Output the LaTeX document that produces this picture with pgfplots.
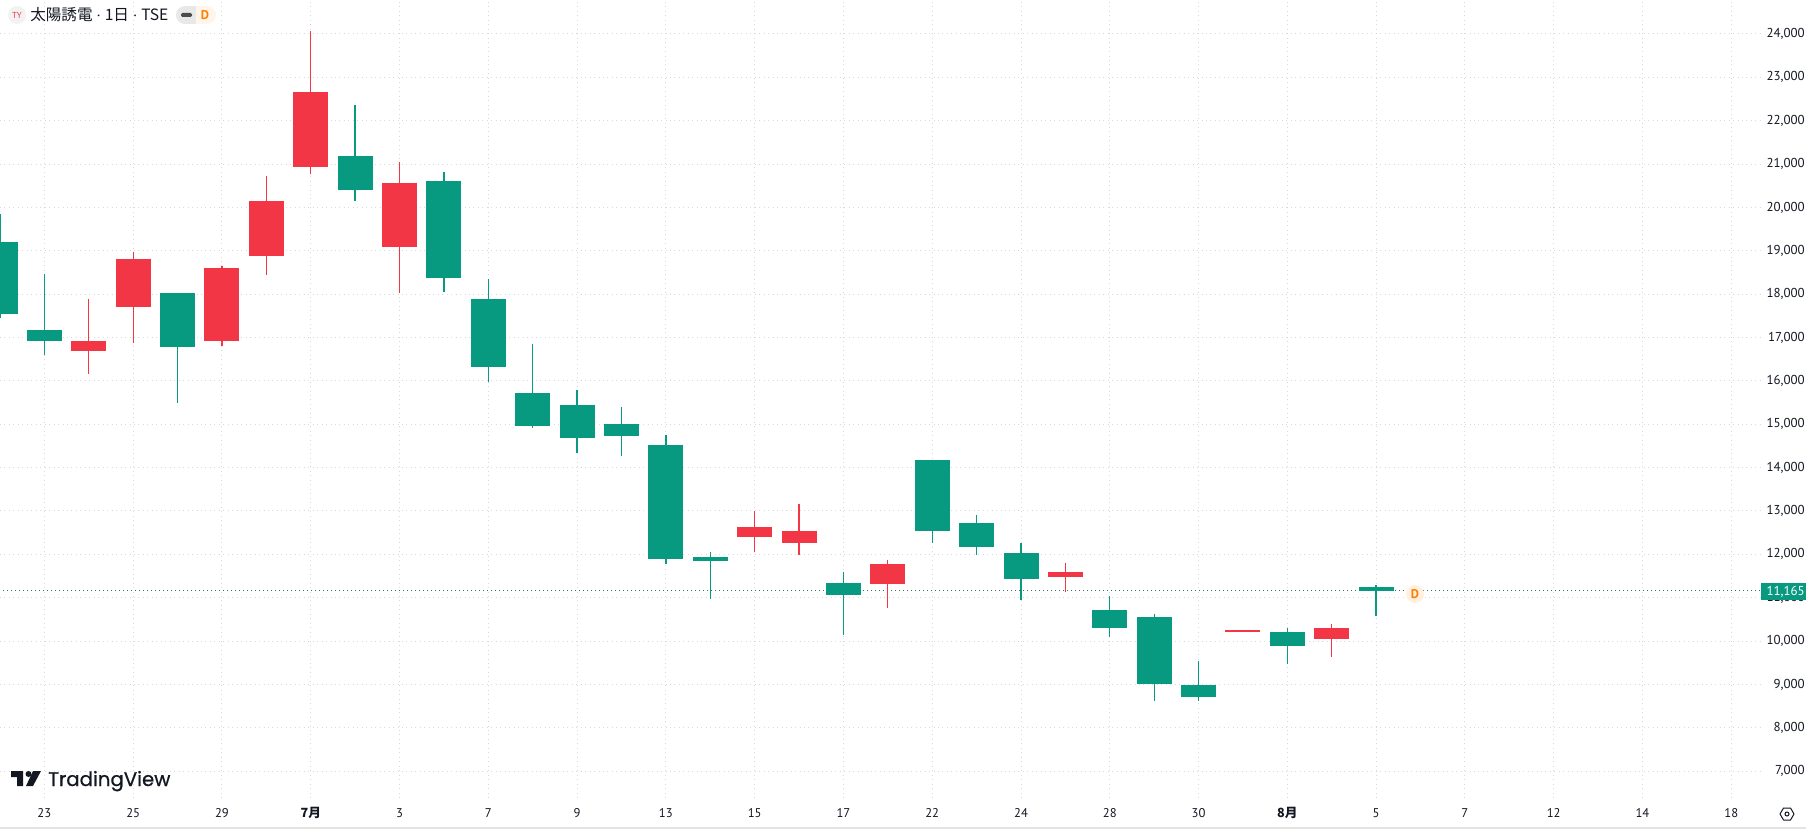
\documentclass[border=0pt]{standalone}
\usepackage{pgfplots}
\usepackage{pgfplotstable}
\usepackage{fontspec}
\pgfplotsset{compat=1.18}
\setmainfont{PT Sans}
\newfontfamily\cjk{Noto Sans CJK JP}
\newfontfamily\logofont[FakeBold=0.6]{Poppins}
\definecolor{tvgreen}{HTML}{089981}
\definecolor{tvred}{HTML}{F23645}
\definecolor{tvgrid}{HTML}{D9D9D9}
\definecolor{tvtext}{HTML}{131722}
\definecolor{tvlast}{HTML}{2F6F60}
% x top bottom high low
\pgfplotstableread{
x top bot hi lo
-0.99 19200 17550 19850 17450
0 17170 16930 18470 16590
3 18020 16780 18020 15500
7 21180 20410 22370 20150
9 20620 18370 20810 18050
10 17890 16330 18340 15980
11 15720 14950 16860 14920
12 15450 14680 15800 14340
13 15000 14740 15400 14260
14 14530 11900 14760 11770
15 11930 11850 12060 10980
18 11350 11060 11590 10150
20 14180 12540 14180 12270
21 12720 12170 12910 11980
22 12040 11430 12270 10950
24 10710 10290 11030 10100
25 10550 9010 10630 8620
26 8986 8710 9540 8620
28 10208 9886 10300 9470
30 11250 11165 11290 10580
}\greentable
\pgfplotstableread{
x top bot hi lo
1 16930 16700 17890 16170
2 18810 17700 18970 16880
4 18610 16930 18660 16800
5 20150 18870 20730 18450
6 22660 20940 24070 20780
8 20570 19080 21040 18020
16 12620 12410 13010 12060
17 12540 12250 13170 11980
19 11770 11320 11880 10760
23 11590 11480 11800 11130
27 10245 10215 10245 10215
29 10300 10047 10393 9632
}\redtable
\begin{document}
\begin{tikzpicture}
\useasboundingbox (0pt,0pt) rectangle (1354.5pt,621.75pt);
\fill[white] (0pt,0pt) rectangle (1354.5pt,621.75pt);
\begin{axis}[
  at={(0pt,23.25pt)}, anchor=south west,
  scale only axis, width=1320.75pt, height=598.5pt,
  xmin=-1.0, xmax=38.67, ymin=6380, ymax=24784,
  axis x line*=bottom, axis y line*=right,
  separate axis lines, x axis line style={draw=none}, y axis line style={draw=none},
  xtick={0,2,...,38},
  xticklabels={23,25,29,{\cjk\bfseries 7月},3,7,9,13,15,17,22,24,28,30,{\cjk\bfseries 8月},5,7,12,14,18},
  ytick={7000,8000,...,24000},
  scaled y ticks=false,
  major tick length=0pt,
  xmajorgrids, ymajorgrids,
  grid style={color=tvgrid, line width=0.75pt, dash pattern=on 0.75pt off 2.6pt},
  xticklabel style={font=\fontsize{9.5}{11}\selectfont, text=tvtext, anchor=center, inner sep=0pt, yshift=-11.25pt},
  yticklabel style={font=\fontsize{9.7}{11}\selectfont, text=tvtext, anchor=east, inner sep=0pt, xshift=33pt},
  /pgf/number format/.cd, 1000 sep={,}, assume math mode=true, fixed, precision=0,
]
% last price
\addplot[tvlast, line width=0.75pt, dash pattern=on 0.75pt off 2.25pt, forget plot] coordinates {(-0.93,11165) (38.67,11165)};
% wicks
\addplot[draw=none, mark=none, forget plot,
  error bars/.cd, y dir=minus, y explicit, error mark=none,
  error bar style={color=tvgreen, line width=1pt}]
  table[x=x, y=hi, y error minus expr=\thisrow{hi}-\thisrow{lo}] {\greentable};
\addplot[draw=none, mark=none, forget plot,
  error bars/.cd, y dir=minus, y explicit, error mark=none,
  error bar style={color=tvred, line width=1pt}]
  table[x=x, y=hi, y error minus expr=\thisrow{hi}-\thisrow{lo}] {\redtable};
% bodies
\addplot[draw=none, mark=none, forget plot,
  error bars/.cd, y dir=minus, y explicit, error mark=none,
  error bar style={color=tvgreen, line width=26.25pt}]
  table[x=x, y=top, y error minus expr=\thisrow{top}-\thisrow{bot}] {\greentable};
\addplot[draw=none, mark=none, forget plot,
  error bars/.cd, y dir=minus, y explicit, error mark=none,
  error bar style={color=tvred, line width=26.25pt}]
  table[x=x, y=top, y error minus expr=\thisrow{top}-\thisrow{bot}] {\redtable};
\end{axis}
\begin{scope}[x=0.75pt, y=-0.75pt, shift={(0pt,621.75pt)}]
% bottom rule
\draw[color=tvgrid!70, line width=1pt] (0,828) -- (1806,828);
% price label
\fill[tvgreen] (1761,583) rectangle (1806,600);
\node[anchor=east, inner sep=0pt, text=white, font=\fontsize{9.7}{11}\selectfont] at (1805,591.5) {11,165};
% D marker
\fill[orange!12] (1415,594) circle (9);
\node[inner sep=0pt, text=orange, font=\fontsize{9.5}{11}\selectfont\bfseries] at (1415,594) {D};
% title
\fill[black!5] (17,15) circle (9);
\node[inner sep=0pt, text=tvred, font=\fontsize{6.5}{7}\selectfont] at (17,15) {TY};
\node[anchor=west, inner sep=0pt, text=tvtext, font=\fontsize{11.7}{13}\selectfont\cjk] at (30,15) {太陽誘電\kern3pt{\rmfamily ·}\kern3pt 1日\kern3pt{\rmfamily ·}\kern3pt TSE};
\begin{scope}
\clip[rounded corners=6.7pt] (176,6) rectangle (216,24);
\fill[black!9] (176,6) rectangle (196,24);
\fill[orange!8] (196,6) rectangle (216,24);
\end{scope}
\fill[black!70, rounded corners=1pt] (181,13) rectangle (192,17);
\node[inner sep=0pt, text=orange, font=\fontsize{9.5}{11}\selectfont\bfseries] at (205,15) {D};
% logo
\fill[tvtext] (11,771) -- (23,771) -- (23,786) -- (17,786) -- (17,777) -- (11,777) -- cycle;
\fill[tvtext] (28.5,774) circle (3);
\fill[tvtext] (33,771) -- (41,771) -- (33,786) -- (26,786) -- cycle;
\node[anchor=base west, inner sep=0pt, text=tvtext, font=\fontsize{14.8}{17}\logofont] at (48,786) {TradingView};
% settings icon
\draw[tvtext, line width=0.75pt, line join=round] (1780,814) -- (1783.5,808) -- (1790.5,808) -- (1794,814) -- (1790.5,820) -- (1783.5,820) -- cycle;
\draw[tvtext, line width=0.75pt] (1787,814) circle (2);
\end{scope}
\end{tikzpicture}
\end{document}
